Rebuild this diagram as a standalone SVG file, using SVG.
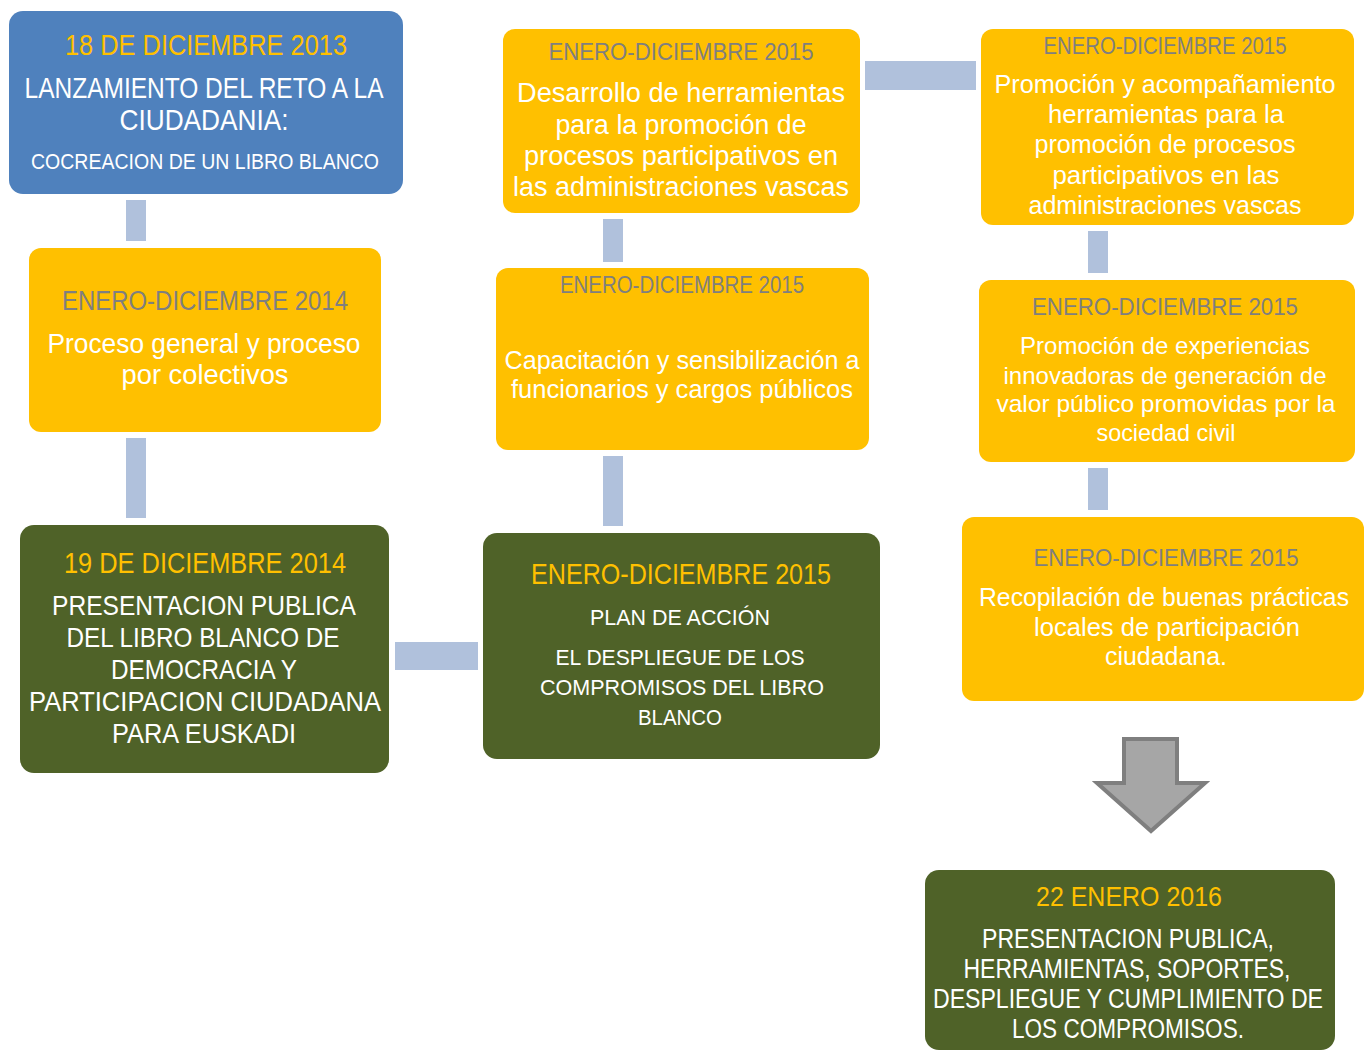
<svg xmlns="http://www.w3.org/2000/svg" width="1364" height="1050" viewBox="0 0 1364 1050">
<style>
text{font-family:"Liberation Sans",Arial,sans-serif;text-anchor:middle}
.blue{fill:#4F81BD}
.yel{fill:#FFC000}
.grn{fill:#4F6228}
.con{fill:#B0C1DC}
.ty{fill:#FFC000}
.tg{fill:#7F7F7F}
.tw{fill:#FFFFFF}
</style>
<rect width="1364" height="1050" fill="#FFFFFF"/>
<g id="connectors">
<rect class="con" x="126" y="200" width="20" height="41"/>
<rect class="con" x="126" y="438" width="20" height="80"/>
<rect class="con" x="395" y="642" width="83" height="28"/>
<rect class="con" x="603" y="456" width="20" height="70"/>
<rect class="con" x="603" y="219" width="20" height="43"/>
<rect class="con" x="865" y="61" width="111" height="29"/>
<rect class="con" x="1088" y="231" width="20" height="42"/>
<rect class="con" x="1088" y="468" width="20" height="42"/>
<polygon points="1124,739 1177,739 1177,783 1205,783 1151,831 1097,783 1124,783" fill="#A6A6A6" stroke="#7F7F7F" stroke-width="4" stroke-linejoin="miter"/>
</g>
<g id="n1">
<rect class="blue" x="9" y="11" width="394" height="183" rx="14"/>
<text class="ty" x="206" y="55" font-size="29" textLength="282" lengthAdjust="spacingAndGlyphs">18 DE DICIEMBRE 2013</text>
<text class="tw" x="204" y="98" font-size="29" textLength="359" lengthAdjust="spacingAndGlyphs">LANZAMIENTO DEL RETO A LA</text>
<text class="tw" x="204" y="130" font-size="29" textLength="169" lengthAdjust="spacingAndGlyphs">CIUDADANIA:</text>
<text class="tw" x="205" y="169" font-size="22" textLength="348" lengthAdjust="spacingAndGlyphs">COCREACION DE UN LIBRO BLANCO</text>
</g>
<g id="n2">
<rect class="yel" x="29" y="248" width="352" height="184" rx="12"/>
<text class="tg" x="205" y="310" font-size="27" textLength="286" lengthAdjust="spacingAndGlyphs">ENERO-DICIEMBRE 2014</text>
<text class="tw" x="204" y="353" font-size="28" textLength="313" lengthAdjust="spacingAndGlyphs">Proceso general y proceso</text>
<text class="tw" x="205" y="384" font-size="28" textLength="167" lengthAdjust="spacingAndGlyphs">por colectivos</text>
</g>
<g id="n3">
<rect class="grn" x="20" y="525" width="369" height="248" rx="14"/>
<text class="ty" x="205" y="573" font-size="29" textLength="282" lengthAdjust="spacingAndGlyphs">19 DE DICIEMBRE 2014</text>
<text class="tw" x="204" y="615" font-size="28" textLength="304" lengthAdjust="spacingAndGlyphs">PRESENTACION PUBLICA</text>
<text class="tw" x="203" y="647" font-size="28" textLength="273" lengthAdjust="spacingAndGlyphs">DEL LIBRO BLANCO DE</text>
<text class="tw" x="204" y="679" font-size="28" textLength="186" lengthAdjust="spacingAndGlyphs">DEMOCRACIA Y</text>
<text class="tw" x="205" y="711" font-size="28" textLength="352" lengthAdjust="spacingAndGlyphs">PARTICIPACION CIUDADANA</text>
<text class="tw" x="204" y="743" font-size="28" textLength="184" lengthAdjust="spacingAndGlyphs">PARA EUSKADI</text>
</g>
<g id="n4">
<rect class="grn" x="483" y="533" width="397" height="226" rx="14"/>
<text class="ty" x="681" y="584" font-size="29" textLength="300" lengthAdjust="spacingAndGlyphs">ENERO-DICIEMBRE 2015</text>
<text class="tw" x="680" y="625" font-size="22" textLength="180" lengthAdjust="spacingAndGlyphs">PLAN DE ACCIÓN</text>
<text class="tw" x="680" y="665" font-size="22" textLength="249" lengthAdjust="spacingAndGlyphs">EL DESPLIEGUE DE LOS</text>
<text class="tw" x="682" y="695" font-size="22" textLength="284" lengthAdjust="spacingAndGlyphs">COMPROMISOS  DEL LIBRO</text>
<text class="tw" x="680" y="725" font-size="22" textLength="84" lengthAdjust="spacingAndGlyphs">BLANCO</text>
</g>
<g id="n5">
<rect class="yel" x="496" y="268" width="373" height="182" rx="12"/>
<text class="tg" x="682" y="293" font-size="23" textLength="244" lengthAdjust="spacingAndGlyphs">ENERO-DICIEMBRE 2015</text>
<text class="tw" x="682" y="369" font-size="26" textLength="355" lengthAdjust="spacingAndGlyphs">Capacitación y sensibilización a</text>
<text class="tw" x="682" y="398" font-size="26" textLength="342" lengthAdjust="spacingAndGlyphs">funcionarios y cargos públicos</text>
</g>
<g id="n6">
<rect class="yel" x="503" y="29" width="357" height="184" rx="12"/>
<text class="tg" x="681" y="60" font-size="23" textLength="265" lengthAdjust="spacingAndGlyphs">ENERO-DICIEMBRE  2015</text>
<text class="tw" x="681" y="102" font-size="27" textLength="328" lengthAdjust="spacingAndGlyphs">Desarrollo de herramientas</text>
<text class="tw" x="681" y="134" font-size="27" textLength="251" lengthAdjust="spacingAndGlyphs">para la promoción de</text>
<text class="tw" x="681" y="165" font-size="27" textLength="314" lengthAdjust="spacingAndGlyphs">procesos participativos en</text>
<text class="tw" x="681" y="196" font-size="27" textLength="336" lengthAdjust="spacingAndGlyphs">las administraciones vascas</text>
</g>
<g id="n7">
<rect class="yel" x="981" y="29" width="373" height="196" rx="12"/>
<text class="tg" x="1165" y="54" font-size="23" textLength="243" lengthAdjust="spacingAndGlyphs">ENERO-DICIEMBRE 2015</text>
<text class="tw" x="1165" y="93" font-size="26" textLength="341" lengthAdjust="spacingAndGlyphs">Promoción y acompañamiento</text>
<text class="tw" x="1166" y="123" font-size="26" textLength="236" lengthAdjust="spacingAndGlyphs">herramientas para la</text>
<text class="tw" x="1165" y="153" font-size="26" textLength="261" lengthAdjust="spacingAndGlyphs">promoción de procesos</text>
<text class="tw" x="1166" y="184" font-size="26" textLength="227" lengthAdjust="spacingAndGlyphs">participativos en las</text>
<text class="tw" x="1165" y="214" font-size="26" textLength="273" lengthAdjust="spacingAndGlyphs">administraciones vascas</text>
</g>
<g id="n8">
<rect class="yel" x="979" y="280" width="376" height="182" rx="12"/>
<text class="tg" x="1165" y="315" font-size="23" textLength="266" lengthAdjust="spacingAndGlyphs">ENERO-DICIEMBRE  2015</text>
<text class="tw" x="1165" y="354" font-size="24" textLength="290" lengthAdjust="spacingAndGlyphs">Promoción de experiencias</text>
<text class="tw" x="1165" y="384" font-size="24" textLength="323" lengthAdjust="spacingAndGlyphs">innovadoras  de generación de</text>
<text class="tw" x="1166" y="412" font-size="24" textLength="339" lengthAdjust="spacingAndGlyphs">valor público  promovidas  por la</text>
<text class="tw" x="1166" y="441" font-size="24" textLength="139" lengthAdjust="spacingAndGlyphs">sociedad civil</text>
</g>
<g id="n9">
<rect class="yel" x="962" y="517" width="402" height="184" rx="12"/>
<text class="tg" x="1166" y="566" font-size="23" textLength="265" lengthAdjust="spacingAndGlyphs">ENERO-DICIEMBRE  2015</text>
<text class="tw" x="1164" y="606" font-size="26" textLength="370" lengthAdjust="spacingAndGlyphs">Recopilación de buenas prácticas</text>
<text class="tw" x="1167" y="636" font-size="26" textLength="266" lengthAdjust="spacingAndGlyphs">locales de participación</text>
<text class="tw" x="1166" y="665" font-size="26" textLength="122" lengthAdjust="spacingAndGlyphs">ciudadana.</text>
</g>
<g id="n10">
<rect class="grn" x="925" y="870" width="410" height="180" rx="14"/>
<text class="ty" x="1129" y="906" font-size="28" textLength="186" lengthAdjust="spacingAndGlyphs">22 ENERO 2016</text>
<text class="tw" x="1128" y="948" font-size="27" textLength="292" lengthAdjust="spacingAndGlyphs">PRESENTACION PUBLICA,</text>
<text class="tw" x="1127" y="978" font-size="27" textLength="327" lengthAdjust="spacingAndGlyphs">HERRAMIENTAS, SOPORTES,</text>
<text class="tw" x="1128" y="1008" font-size="27" textLength="390" lengthAdjust="spacingAndGlyphs">DESPLIEGUE Y CUMPLIMIENTO DE</text>
<text class="tw" x="1128" y="1038" font-size="27" textLength="232" lengthAdjust="spacingAndGlyphs">LOS COMPROMISOS.</text>
</g>
</svg>
